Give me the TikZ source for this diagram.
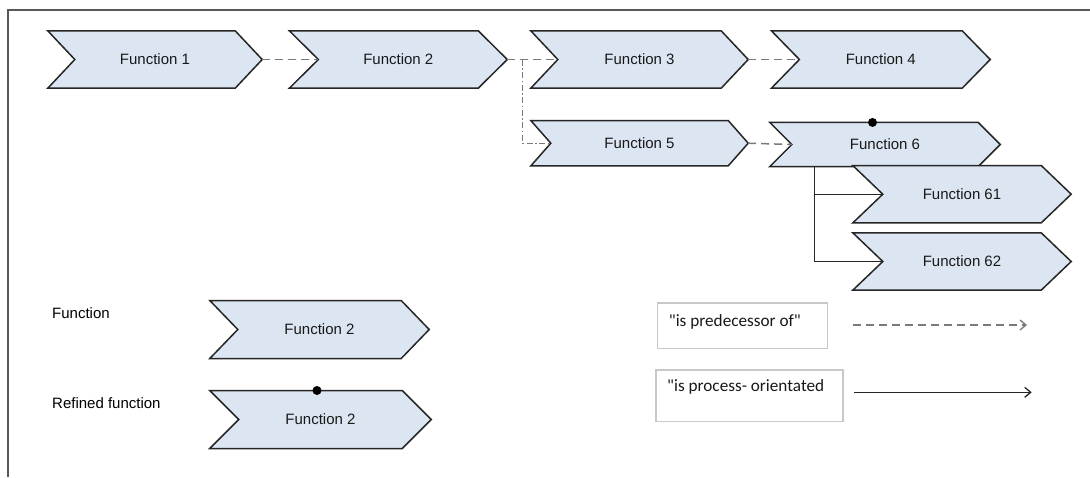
\documentclass[tikz,border=0pt]{standalone}
\usepackage{fontspec}
\setmainfont{Liberation Sans}
\newfontfamily\calibrifont{Carlito}
\usetikzlibrary{calc,backgrounds,arrows.meta}

\definecolor{chevfill}{HTML}{DCE6F2}
\definecolor{chevline}{HTML}{262626}
\definecolor{linkgray}{HTML}{7A7A7A}
\definecolor{boxgray}{HTML}{C8C8C8}
\definecolor{framegray}{HTML}{595959}

% Chevron outline around a named node: #1 node name, #2 depth of notch and tip
\newcommand\chevron[2]{%
  \begin{scope}[on background layer]
    \draw[chevpath] (#1.north west) -- ($(#1.north east)+(-#2,0)$) -- (#1.east)
      -- ($(#1.south east)+(-#2,0)$) -- (#1.south west) -- ($(#1.west)+(#2,0)$) -- cycle;
  \end{scope}
  \coordinate (#1-in) at ($(#1.west)+(#2,0)$);
}

\tikzset{
  chevpath/.style={fill=chevfill, draw=chevline, line width=1.5pt, line join=miter},
  fn/.style={inner sep=0pt, text=black!90, font=\fontsize{15}{18}\selectfont},
  refdot/.style={circle, fill=black, inner sep=0pt, minimum size=9pt},
  pred/.style={draw=linkgray, line width=1.5pt, dash pattern=on 8pt off 5pt},
  predalt/.style={draw=linkgray, line width=1.2pt, dash pattern=on 6pt off 2.5pt on 1.5pt off 2.5pt},
  proc/.style={draw=black!85, line width=1.3pt},
  legtext/.style={inner sep=0pt, font=\fontsize{15}{18}\selectfont, anchor=west},
  legbox/.style={draw=boxgray, line width=1.5pt, inner sep=0pt, anchor=north west},
  boxtext/.style={inner sep=0pt, font=\calibrifont\fontsize{17.2}{21}\selectfont, anchor=west, text=black!90},
  legarrow/.style={line width=1.3pt, -{Straight Barb[length=6pt,width=10pt,line width=1.3pt]}},
}

\begin{document}
\begin{tikzpicture}[x=1pt, y=-1pt]
  \useasboundingbox (0,0) rectangle (1090,477);
  \begin{scope}[on background layer]
    \fill[white] (0,0) rectangle (1090,477);
  \end{scope}

  % frame
  \draw[framegray, line width=1.6pt] (8,477) -- (8,10) -- (1090,10);

  % process chain
  \node[fn, minimum width=214pt, minimum height=57pt] (f1) at (155,59.5) {Function 1};
  \chevron{f1}{27}
  \node[fn, minimum width=217.5pt, minimum height=57pt] (f2) at (398.3,59.5) {Function 2};
  \chevron{f2}{29}
  \node[fn, minimum width=217pt, minimum height=57pt] (f3) at (639.5,59.5) {Function 3};
  \chevron{f3}{27}
  \node[fn, minimum width=218.4pt, minimum height=57pt] (f4) at (880.8,59.5) {Function 4};
  \chevron{f4}{28}
  \node[fn, minimum width=217pt, minimum height=45pt] (f5) at (639.5,143.2) {Function 5};
  \chevron{f5}{20}
  \node[fn, minimum width=230pt, minimum height=43.7pt] (f6) at (885,144.5) {Function 6};
  \chevron{f6}{22}
  \node[refdot] (f6-dot) at ($(f6.north)+(-12.5,0)$) {};
  \node[fn, minimum width=218pt, minimum height=57pt] (f61) at (962,194.2) {Function 61};
  \chevron{f61}{30}
  \node[fn, minimum width=218pt, minimum height=57pt] (f62) at (962,261.5) {Function 62};
  \chevron{f62}{30}

  % predecessor links
  \draw[pred] (f1.east) -- (f2-in);
  \draw[pred] (f2.east) -- (f3-in);
  \draw[pred] (f3.east) -- (f4-in);
  \draw[pred] (f5.east) -- (f6-in);
  \coordinate (split) at ($(f2.east)+(15.5,0)$);
  \draw[predalt] (split) |- (f5-in);

  % refinement of function 6
  \coordinate (fork) at ($(f6.south west)+(45,0)$);
  \draw[proc] (fork) |- (f62-in);
  \draw[proc] (fork |- f61-in) -- (f61-in);

  % legend: function symbols
  \node[legtext] (lab-fn) at (52,313) {Function};
  \node[legtext] (lab-ref) at (52,403) {Refined function};
  \node[fn, minimum width=219pt, minimum height=57.6pt] (l1) at (319.5,329.5) {Function 2};
  \chevron{l1}{28}
  \node[fn, minimum width=221pt, minimum height=57.6pt] (l2) at (320.5,419.5) {Function 2};
  \chevron{l2}{29}
  \node[refdot] (l2-dot) at ($(l2.north)+(-3.5,0)$) {};

  % legend: link types
  \node[legbox, minimum width=170pt, minimum height=45.6pt] (b1) at (656.7,302.3) {};
  \node[boxtext] (t1) at ($(b1.north west)+(12,19.4)$) {"is predecessor of"};
  \node[legbox, minimum width=187pt, minimum height=51.4pt] (b2) at (655,369.3) {};
  \node[boxtext] (t2) at ($(b2.north west)+(12,17.4)$) {"is process- orientated};

  \coordinate (a1s) at (853,325);
  \coordinate (a1e) at (1027,325);
  \draw[legarrow, draw=linkgray, dash pattern=on 8pt off 5pt] (a1s) -- (a1e);
  \coordinate (a2s) at (854,392.3);
  \coordinate (a2e) at (1031.7,392.3);
  \draw[legarrow, draw=black!85] (a2s) -- (a2e);
\end{tikzpicture}
\end{document}
